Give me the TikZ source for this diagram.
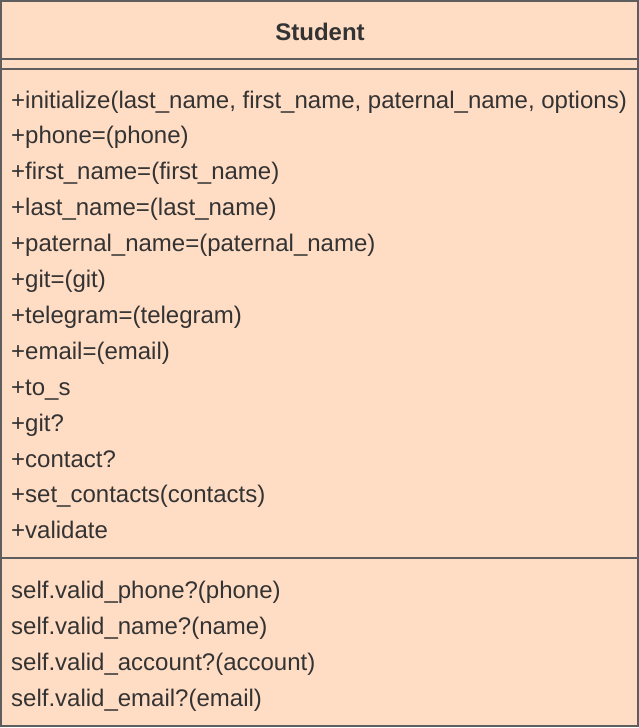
\documentclass[tikz,border=0pt]{standalone}
\usepackage{fontspec}
\setmainfont{Liberation Sans}
\definecolor{classfill}{HTML}{FFDCC4}
\definecolor{classline}{HTML}{5E5E5E}
\definecolor{classtext}{HTML}{333333}
\newcommand{\us}{\_}

\begin{document}
\begin{tikzpicture}[x=1pt,y=-1pt,
  member/.style={anchor=base west,inner sep=0pt,text=classtext,font=\fontsize{24}{28}\selectfont},
  title/.style={anchor=base,inner sep=0pt,text=classtext,font=\fontsize{24}{28}\selectfont\bfseries}]
\useasboundingbox (0,0) rectangle (639,728);
\node[draw=classline,line width=2pt,fill=classfill,rectangle,minimum width=637pt,minimum height=725pt,inner sep=0pt] (box) at (319.5,363.5) {};
\draw[classline,line width=1.5pt] (box.north west) ++(0,59) coordinate (h1) -- (h1 -| box.east);
\draw[classline,line width=1.5pt] (box.north west) ++(0,69) coordinate (h2) -- (h2 -| box.east);
\draw[classline,line width=1.5pt] (box.north west) ++(0,558) coordinate (h3) -- (h3 -| box.east);

\node[title] (name) at (320,40) {Student};

\node[member] (init) at (11,108) {+initialize(last\us name, first\us name, paternal\us name, options)};
\node[member] (phone) at (11,143.9) {+phone=(phone)};
\node[member] (first) at (11,179.8) {+first\us name=(first\us name)};
\node[member] (last) at (11,215.7) {+last\us name=(last\us name)};
\node[member] (paternal) at (11,251.6) {+paternal\us name=(paternal\us name)};
\node[member] (git) at (11,287.5) {+git=(git)};
\node[member] (telegram) at (11,323.4) {+telegram=(telegram)};
\node[member] (email) at (11,359.3) {+email=(email)};
\node[member] (tos) at (11,395.2) {+to\us s};
\node[member] (gitq) at (11,431.1) {+git?};
\node[member] (contact) at (11,467) {+contact?};
\node[member] (setcontacts) at (11,502.9) {+set\us contacts(contacts)};
\node[member] (validate) at (11,538.8) {+validate};

\node[member] (vphone) at (11,598) {self.valid\us phone?(phone)};
\node[member] (vname) at (11,634) {self.valid\us name?(name)};
\node[member] (vaccount) at (11,670) {self.valid\us account?(account)};
\node[member] (vemail) at (11,706) {self.valid\us email?(email)};
\end{tikzpicture}
\end{document}
